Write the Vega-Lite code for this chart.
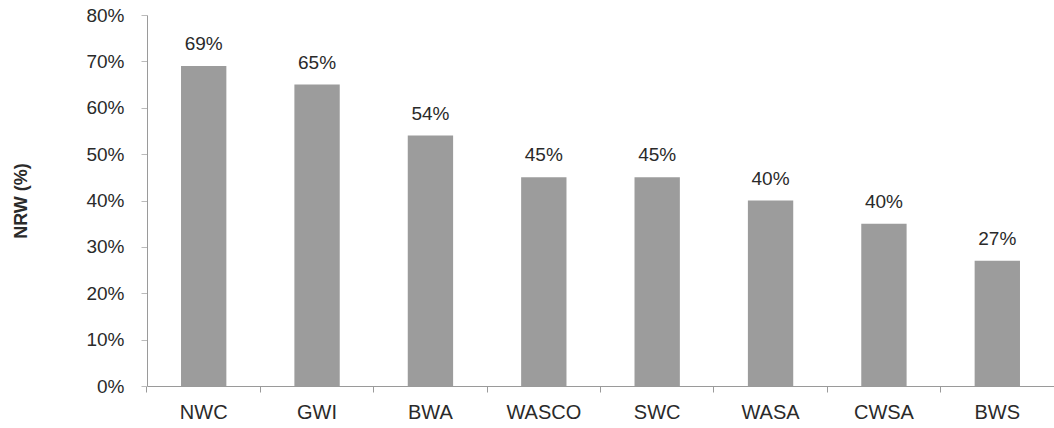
{
  "$schema": "https://vega.github.io/schema/vega-lite/v6.json",
  "autosize": "none",
  "width": 907,
  "height": 371,
  "padding": {"left": 147, "top": 15, "right": 0, "bottom": 42},
  "background": "white",
  "config": {
    "view": {"stroke": null},
    "font": "Liberation Sans"
  },
  "data": {
    "values": [
      {"utility": "NWC", "nrw": 69, "label": "69%"},
      {"utility": "GWI", "nrw": 65, "label": "65%"},
      {"utility": "BWA", "nrw": 54, "label": "54%"},
      {"utility": "WASCO", "nrw": 45, "label": "45%"},
      {"utility": "SWC", "nrw": 45, "label": "45%"},
      {"utility": "WASA", "nrw": 40, "label": "40%"},
      {"utility": "CWSA", "nrw": 35, "label": "40%"},
      {"utility": "BWS", "nrw": 27, "label": "27%"}
    ]
  },
  "encoding": {
    "x": {
      "field": "utility",
      "type": "nominal",
      "sort": null,
      "scale": {"paddingInner": 0.6, "paddingOuter": 0.3},
      "axis": {
        "title": null,
        "labelAngle": 0,
        "labelFontSize": 20,
        "labelColor": "#2a2a2a",
        "labelPadding": 10,
        "domainColor": "#9a9a9a",
        "tickColor": "#9a9a9a",
        "tickSize": 6,
        "bandPosition": -0.75
      }
    },
    "y": {
      "field": "nrw",
      "type": "quantitative",
      "scale": {"domain": [0, 80]},
      "axis": {
        "title": "NRW (%)",
        "titleFontSize": 18,
        "titleFontWeight": "bold",
        "titleColor": "#2a2a2a",
        "titlePadding": 55,
        "values": [0, 10, 20, 30, 40, 50, 60, 70, 80],
        "labelExpr": "datum.value + '%'",
        "labelFontSize": 19,
        "labelColor": "#2a2a2a",
        "labelPadding": 17,
        "grid": false,
        "domainColor": "#9a9a9a",
        "tickColor": "#bbbbbb",
        "tickSize": 6
      }
    }
  },
  "layer": [
    {"mark": {"type": "bar", "color": "#9c9c9c"}},
    {
      "mark": {"type": "text", "baseline": "bottom", "dy": -12, "fontSize": 19, "color": "#2a2a2a"},
      "encoding": {"text": {"field": "label"}}
    }
  ]
}
